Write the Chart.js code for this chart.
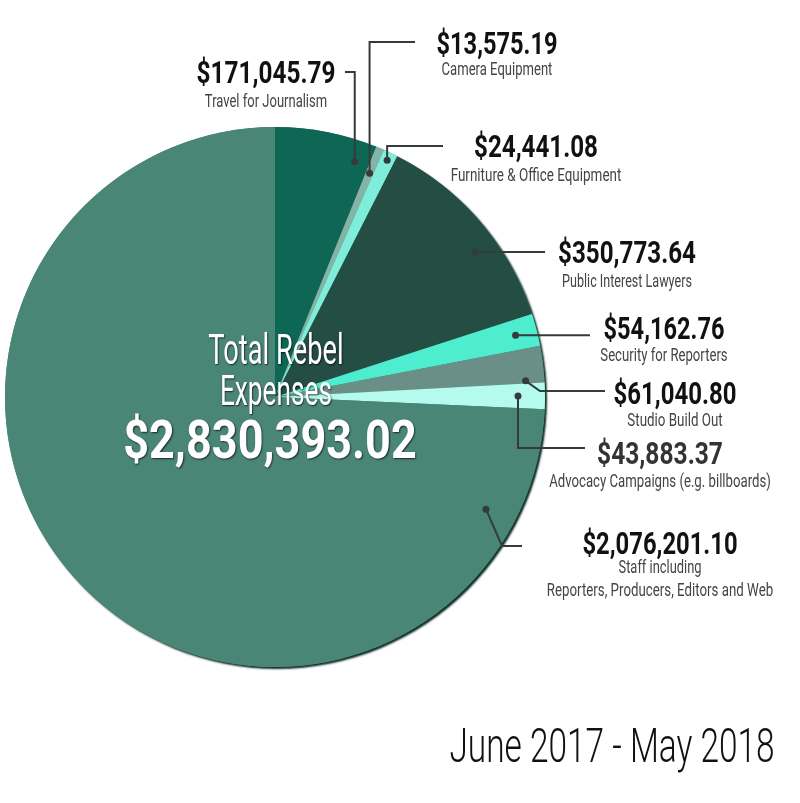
<!DOCTYPE html>
<html>
<head>
<meta charset="utf-8">
<script src="https://cdn.jsdelivr.net/npm/chart.js@4.4.1/dist/chart.umd.min.js"></script>
<style>
  html, body { margin: 0; padding: 0; background: #fff; }
  #wrap { position: relative; width: 800px; height: 803px; overflow: hidden; }
  #pie { position: absolute; left: 0; top: 0; }
  .lbl { position: absolute; white-space: nowrap; line-height: 1; transform-origin: 50% 50%;
         font-family: Roboto, "Liberation Sans", sans-serif; }
</style>
</head>
<body>
<div id="wrap"><canvas id="pie" width="800" height="803"></canvas></div>
<script>
// --- Data ---
const categories = [
  'Travel for Journalism',
  'Camera Equipment',
  'Furniture & Office Equipment',
  'Public Interest Lawyers',
  'Security for Reporters',
  'Studio Build Out',
  'Advocacy Campaigns (e.g. billboards)',
  'Staff including\nReporters, Producers, Editors and Web'
];
const amounts = [171045.79, 13575.19, 24441.08, 350773.64, 54162.76, 61040.80, 43883.37, 2076201.10];
const sliceColors = ['#0e6655', '#86b3a8', '#7eeedb', '#244d44', '#4eedd0', '#6a8f87', '#b4fbee', '#4a8676'];
const totalExpenses = 2830393.02;
const periodText = 'June 2017 - May 2018';

// --- Label layout (centre x, value y, value width, subtitle y, subtitle widths) ---
const labelSpots = [
  { cx: 266, vy: 72,  vw: 139, sy: [101], sw: [122] },
  { cx: 497, vy: 43,  vw: 121, sy: [69],  sw: [111] },
  { cx: 536, vy: 146, vw: 124, sy: [175], sw: [171] },
  { cx: 627, vy: 252, vw: 138, sy: [281], sw: [130] },
  { cx: 664, vy: 328, vw: 121, sy: [355], sw: [127] },
  { cx: 675, vy: 393, vw: 123, sy: [420], sw: [95] },
  { cx: 660, vy: 453, vw: 126, sy: [481], sw: [222], color: '#333' },
  { cx: 660, vy: 543, vw: 155, sy: [567, 590], sw: [83, 226] }
];

// leader lines: dot inside slice (angle fraction, radius fraction), then path points
// 'dx' / 'dy' = reuse the dot's own x / y
const leaders = [
  { f: 0.85, r: 0.92, path: [['dx', 72], [345, 72]] },
  { f: 0.5,  r: 0.90, path: [['dx', 42], [415, 42]] },
  { f: 0.5,  r: 0.97, path: [['dx', 146], [443, 146]] },
  { f: 0.6,  r: 0.914, path: [[545, 'dy']] },
  { f: 0.5,  r: 0.92, path: [[590, 'dy']] },
  { f: 0.92, r: 0.93, path: [[540, 391], [605, 391]] },
  { f: 0.5,  r: 0.90, path: [['dx', 448], [585, 448]] },
  { f: 0.095, r: 0.885, path: [[502, 546], [522, 546]] }
];

function money(v) {
  return '$' + v.toLocaleString('en-US', { minimumFractionDigits: 2, maximumFractionDigits: 2 });
}

// --- Plugins ---
const pieShadow = {
  id: 'pieShadow',
  beforeDatasetsDraw(chart) {
    const arc = chart.getDatasetMeta(0).data[0];
    if (!arc) return;
    const ctx = chart.ctx;
    ctx.save();
    ctx.shadowColor = 'rgba(0,35,25,0.95)';
    ctx.shadowBlur = 2;
    ctx.shadowOffsetX = 2;
    ctx.shadowOffsetY = 2;
    ctx.fillStyle = sliceColors[sliceColors.length - 1];
    ctx.beginPath();
    ctx.arc(arc.x, arc.y, arc.outerRadius, 0, Math.PI * 2);
    ctx.fill();
    ctx.restore();
  }
};

const leaderLines = {
  id: 'leaderLines',
  afterDatasetsDraw(chart) {
    const ctx = chart.ctx;
    const arcs = chart.getDatasetMeta(0).data;
    ctx.save();
    ctx.strokeStyle = '#353b3a';
    ctx.fillStyle = '#353b3a';
    ctx.lineWidth = 2;
    leaders.forEach((l, i) => {
      const a = arcs[i];
      const ang = a.startAngle + (a.endAngle - a.startAngle) * l.f;
      const dx = a.x + Math.cos(ang) * a.outerRadius * l.r;
      const dy = a.y + Math.sin(ang) * a.outerRadius * l.r;
      ctx.beginPath();
      ctx.moveTo(dx, dy);
      l.path.forEach(p => {
        ctx.lineTo(p[0] === 'dx' ? dx : p[0], p[1] === 'dy' ? dy : p[1]);
      });
      ctx.stroke();
      ctx.beginPath();
      ctx.arc(dx, dy, 3.5, 0, Math.PI * 2);
      ctx.fill();
    });
    ctx.restore();
  }
};

new Chart(document.getElementById('pie'), {
  type: 'pie',
  data: {
    labels: categories,
    datasets: [{
      data: amounts,
      backgroundColor: sliceColors,
      borderWidth: 0
    }]
  },
  options: {
    responsive: false,
    animation: false,
    rotation: 0,
    layout: { padding: { left: 5, top: 127, right: 255, bottom: 136 } },
    plugins: { legend: { display: false }, tooltip: { enabled: false } }
  },
  plugins: [pieShadow, leaderLines]
});

// --- Text labels (HTML, fitted to width) ---
const wrap = document.getElementById('wrap');
function addText(t) {
  const el = document.createElement('div');
  el.className = 'lbl';
  el.textContent = t.text;
  el.style.left = t.cx + 'px';
  el.style.top = t.cy + 'px';
  el.style.fontSize = t.size + 'px';
  el.style.fontWeight = t.weight || 400;
  el.style.color = t.color || '#222';
  if (t.shadow) el.style.textShadow = t.shadow;
  wrap.appendChild(el);
  const natural = el.offsetWidth;
  const s = t.w / natural;
  el.style.transform = `translate(-50%, -50%) scaleX(${s})`;
}

categories.forEach((c, i) => {
  const spot = labelSpots[i];
  addText({ text: money(amounts[i]), cx: spot.cx, cy: spot.vy, w: spot.vw, size: 31, weight: 700, color: spot.color || '#111' });
  c.split('\n').forEach((line, j) => {
    addText({ text: line, cx: spot.cx, cy: spot.sy[j], w: spot.sw[j], size: 18, weight: 400, color: '#444' });
  });
});

const whiteShadow = '1px 1px 2px rgba(0,0,0,0.7)';
addText({ text: 'Total Rebel', cx: 276, cy: 350, w: 135, size: 42, weight: 400, color: '#fff', shadow: whiteShadow });
addText({ text: 'Expenses', cx: 276, cy: 391, w: 112, size: 42, weight: 400, color: '#fff', shadow: whiteShadow });
addText({ text: money(totalExpenses), cx: 270, cy: 440, w: 294, size: 53, weight: 700, color: '#fff', shadow: whiteShadow });
addText({ text: periodText, cx: 612, cy: 745, w: 325, size: 49, weight: 300, color: '#111' });
</script>
</body>
</html>
